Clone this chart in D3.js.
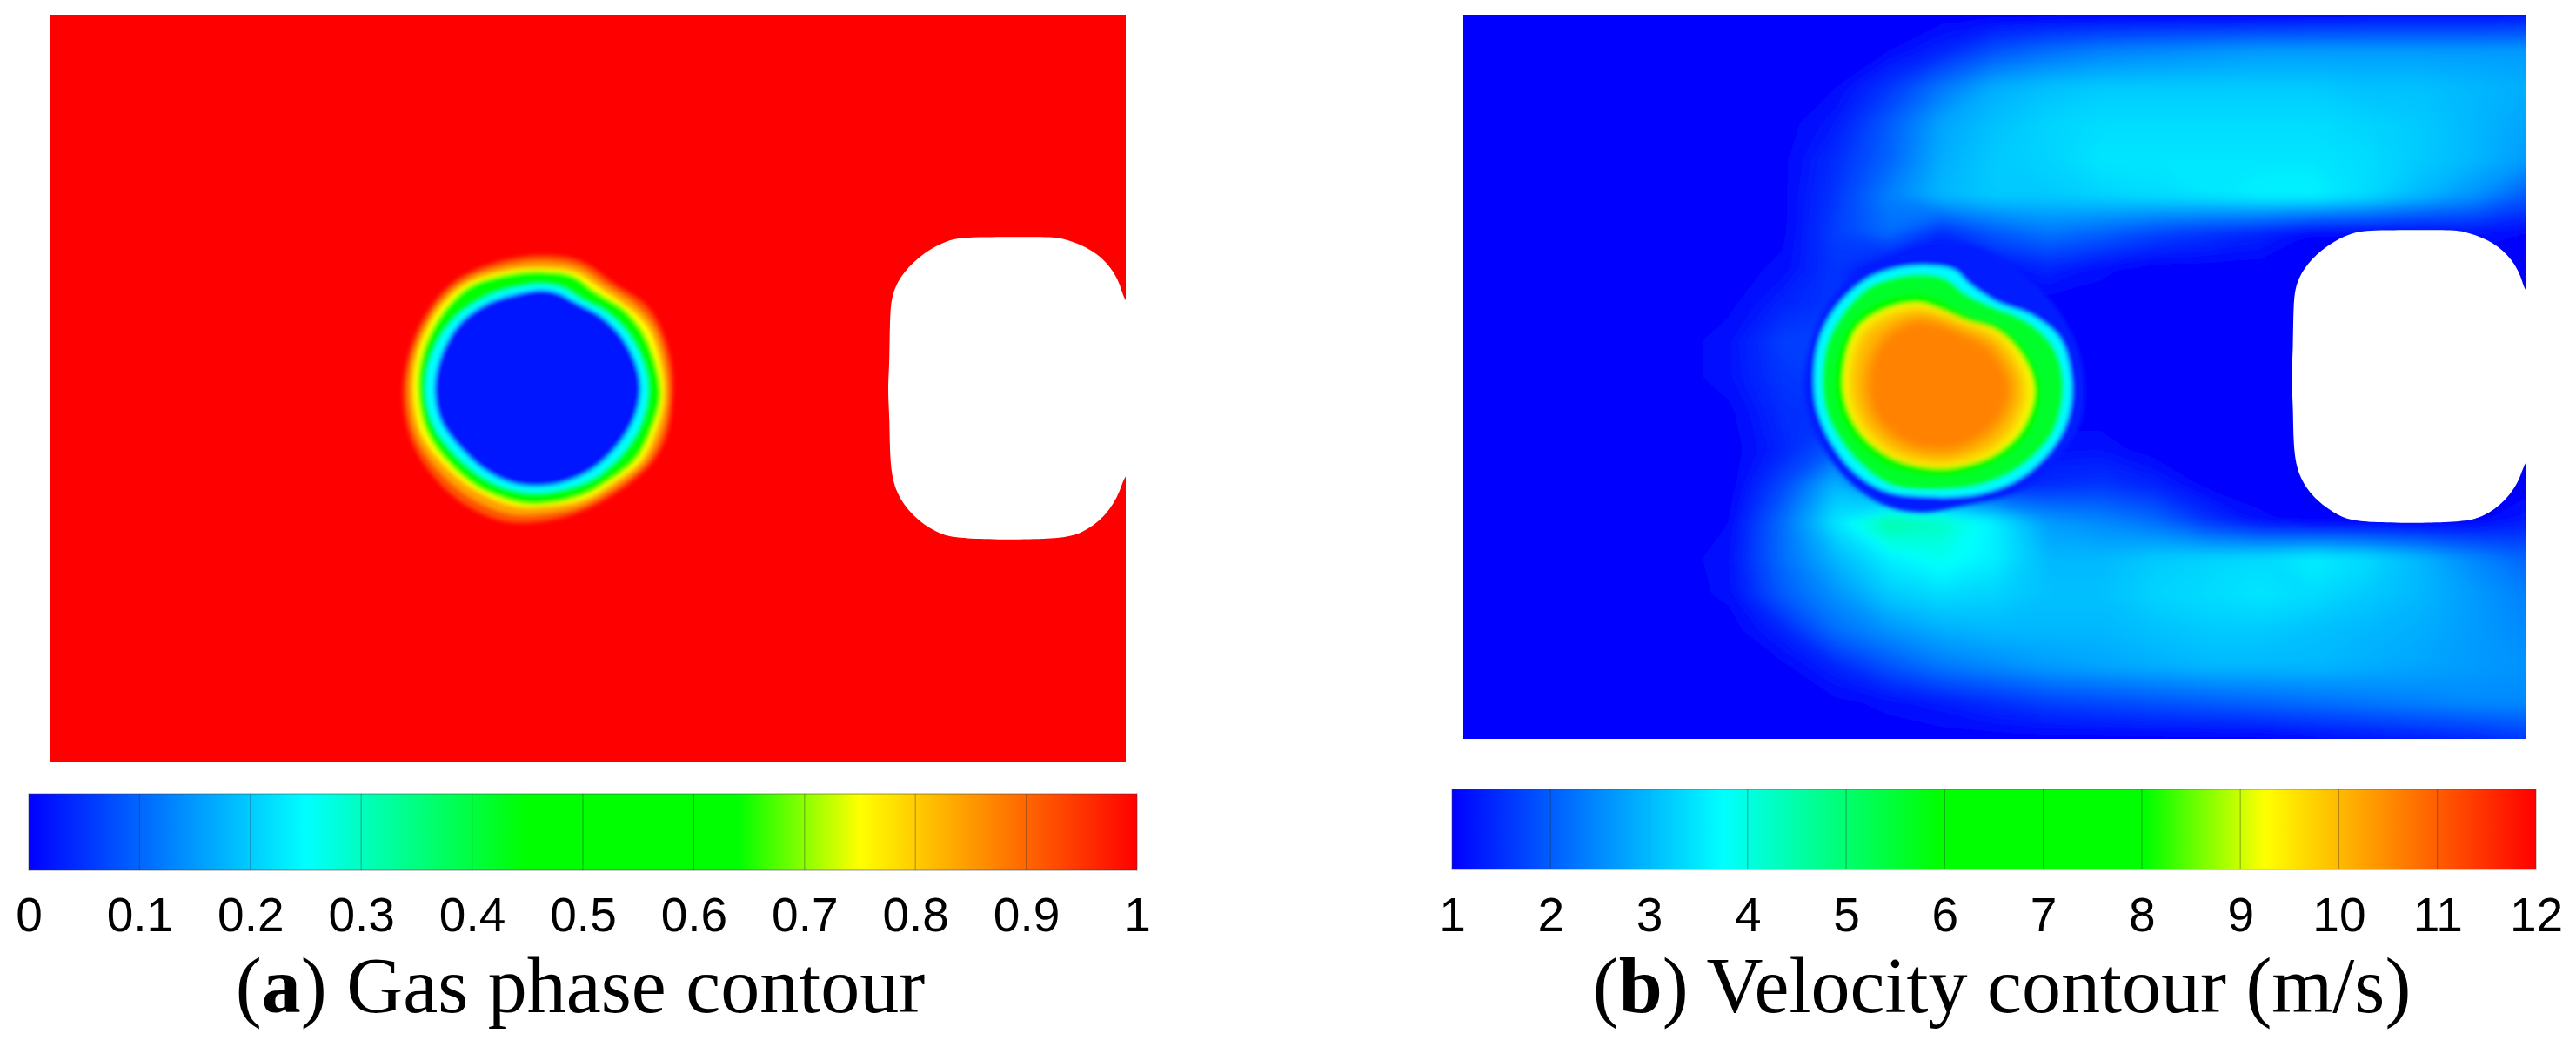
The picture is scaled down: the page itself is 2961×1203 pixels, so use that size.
<!DOCTYPE html>
<html>
<head>
<meta charset="utf-8">
<title>Gas phase and velocity contours</title>
<script src="https://cdn.jsdelivr.net/npm/d3@7"></script>
<style>
  html, body { margin: 0; background: #fff; }
  svg { display: block; }
  .tick-label text { font-family: "Liberation Sans", Arial, sans-serif; font-size: 55px; fill: #000; }
  .caption { font-family: "Liberation Serif", "Times New Roman", serif; font-size: 90px; fill: #000; text-anchor: middle; }
</style>
</head>
<body>
<svg id="chart" width="2961" height="1203" viewBox="0 0 2961 1203"></svg>
<script>
// colour map shared by both contours, t is the fraction of the colour bar
const colorStops = [0, 0.25, 0.45, 0.64, 0.75, 1];
const colorValues = ["#0000ff", "#00ffff", "#00ff00", "#00ff00", "#ffff00", "#ff0000"];

const gasTicks = [0, 0.1, 0.2, 0.3, 0.4, 0.5, 0.6, 0.7, 0.8, 0.9, 1];
const velocityTicks = [1, 2, 3, 4, 5, 6, 7, 8, 9, 10, 11, 12];

// white obstacle outline in domain units (x 0-150, y 0-100), runs past the right edge to close
const obstacleOutline = [
  [150, 39.9], [149.4, 36], [147.4, 33], [144.6, 31], [141, 29.8], [138.8, 29.7], [128.3, 29.7],
  [125.4, 30], [121.8, 31.8], [119, 34.4], [117.6, 36.8], [117.1, 39.5], [117.1, 46.1], [116.8, 50.2],
  [117.1, 53.9], [117.1, 60.1], [117.9, 64], [120.4, 67.2], [123.6, 69.3], [126.6, 70.2], [140.9, 70.2],
  [144, 69.3], [147, 67.3], [149.4, 63.8], [150, 60.1], [158, 60], [158, 40],
];

// gas fraction isolines of the bubble, digitised in image units
const gasLevels = [0.92, 0.84, 0.75, 0.64, 0.45, 0.25, 0.02];
const gasOutlines = [
  [[350,70],[430,90],[500,170],[560,240],[590,320],[612,450],[612,600],[600,700],[570,790],[500,890],[420,960],[340,990],[270,985],[190,920],[130,820],[90,700],[75,550],[85,420],[115,290],[170,170],[250,100]],
  [[352,92],[425,110],[485,178],[542,245],[578,320],[601,445],[605,580],[590,690],[560,785],[495,875],[430,935],[355,962],[285,960],[205,900],[140,800],[100,690],[85,545],[95,410],[130,275],[185,170],[265,112]],
  [[355,115],[420,130],[470,185],[525,250],[565,320],[590,440],[597,560],[580,680],[550,780],[490,860],[440,910],[370,935],[300,935],[220,880],[150,780],[110,680],[95,540],[105,400],[145,260],[200,170],[280,125]],
  [[355,125],[415,140],[460,195],[520,260],[555,335],[580,440],[590,560],[570,680],[540,775],[480,855],[430,900],[370,925],[310,925],[225,870],[160,775],[120,670],[105,530],[115,400],[155,265],[210,175],[285,135]],
  [[350,155],[395,165],[440,212],[490,258],[535,330],[565,430],[577,530],[565,640],[533,740],[472,842],[412,888],[340,908],[278,893],[222,848],[165,762],[122,650],[110,530],[122,400],[165,278],[232,200],[290,170]],
  [[350,170],[390,180],[432,222],[482,268],[525,340],[555,440],[565,530],[553,640],[520,740],[462,832],[402,873],[340,888],[283,873],[232,832],[175,748],[135,650],[120,530],[133,410],[175,293],[238,216],[295,183]],
  [[350,190],[385,200],[425,236],[470,278],[510,345],[540,440],[550,530],[537,635],[500,735],[448,815],[392,855],[340,866],[292,855],[242,815],[190,735],[150,640],[138,530],[150,420],[188,305],[248,232],[300,204]],
];

// velocity isolines of the bubble, digitised in image units
const velocityLevels = [1.3, 3.7, 5.6, 8, 9.2, 10, 10.6];
const velocityOutlines = [
  [[380,150],[450,165],[520,240],[600,390],[640,560],[640,750],[600,880],[520,1000],[420,1050],[340,1075],[270,1050],[200,960],[140,800],[120,640],[140,450],[190,300],[290,190]],
  [[340,225],[400,240],[430,290],[480,350],[550,400],[600,480],[620,620],[615,740],[590,840],[530,950],[450,1010],[340,1020],[270,1000],[210,930],[160,800],[140,680],[145,500],[175,380],[230,280],[280,240]],
  [[340,255],[385,270],[420,320],[470,365],[535,415],[585,500],[605,620],[598,740],[575,830],[515,930],[440,985],[340,997],[280,980],[225,910],[175,790],[155,680],[160,510],[190,395],[240,300],[290,265]],
  [[335,322],[375,345],[430,400],[490,440],[535,520],[563,650],[545,790],[490,890],[410,945],[360,950],[280,920],[215,830],[180,700],[178,560],[205,430],[260,350]],
  [[335,355],[370,375],[420,415],[480,450],[525,530],[550,650],[530,780],[480,870],[410,915],[360,920],[290,890],[230,810],[198,700],[195,570],[220,440],[275,375]],
  [[335,372],[370,388],[418,422],[475,460],[513,535],[535,650],[515,775],[470,860],[405,902],[360,907],[295,880],[238,800],[210,700],[207,575],[230,455],[280,392]],
  [[340,405],[375,420],[415,450],[460,490],[490,550],[510,650],[490,755],[445,830],[400,865],[360,868],[310,845],[260,775],[238,690],[237,590],[258,490],[300,425]],
];

// background velocity (m/s) read on a grid, x every 7.5 units, y every 5 units
const velocityGrid = [
  [1,1,1,1,1,1,1,1,1,1,1,1,1,1,1,1,1.05,1.1,1.1,1.1,1.2],
  [1,1,1,1,1,1,1,1,1.1,1.4,1.9,2.2,2.4,2.5,2.6,2.7,2.7,2.7,2.7,2.7,2.7],
  [1,1,1,1,1,1,1,1.1,1.6,2.3,2.9,3.1,3.2,3.2,3.2,3.2,3.2,3.1,3.1,3,2.9],
  [1,1,1,1,1,1,1,1.3,2.0,2.8,3.1,3.3,3.4,3.4,3.4,3.4,3.4,3.3,3.2,3,2.8],
  [1,1,1,1,1,1,1.05,1.5,2.1,2.9,3.2,3.3,3.5,3.5,3.5,3.5,3.5,3.4,3.2,3,2.7],
  [1,1,1,1,1,1,1.05,1.6,2.4,3,3.2,3.2,3.3,3.4,3.5,3.65,3.65,3.4,3,2.6,2.0],
  [1,1,1,1,1,1,1.05,1.7,2.2,1.5,2.0,2.3,2.1,1.8,1.6,1.4,1.1,1.1,1.1,1.2,1.1],
  [1,1,1,1,1,1,1.15,1.6,1,1,1.2,1.4,1.15,1,1,1,1,1,1,1,1],
  [1,1,1,1,1,1.05,1.4,1.6,1,1,1,1,1,1,1,1,1,1,1,1,1],
  [1,1,1,1,1,1.2,1.7,1.7,1,1,1,1,1,1,1,1,1,1,1,1,1],
  [1,1,1,1,1,1.2,1.6,1.7,1,1,1,1,1,1,1,1,1,1,1,1,1],
  [1,1,1,1,1,1.05,1.5,1.6,1,1,1,1,1,1,1,1,1,1,1,1,1],
  [1,1,1,1,1,1,1.4,2.0,1.5,1.2,1.2,1.2,1.2,1,1,1,1,1,1,1,1],
  [1,1,1,1,1,1,1.8,3,1.6,1.3,1.3,1.5,1.6,1.4,1.05,1,1,1,1,1,1],
  [1,1,1,1,1,1.1,2.2,3.5,4.6,4.3,3.6,2.7,2.5,2.2,1.6,1.15,1,1,1,1.05,1.3],
  [1,1,1,1,1,1.2,2.2,3,3.6,3.9,3.6,3.0,3.0,3.2,3.3,3.4,3.6,3.4,3.0,2.5,2.1],
  [1,1,1,1,1,1.15,2,2.6,3.2,3.4,3.3,3.1,3.1,3.3,3.4,3.5,3.4,3.2,3,2.7,2.4],
  [1,1,1,1,1,1,1.4,2.2,2.6,2.9,3.0,3,3.0,3.1,3.2,3.2,3.1,3,2.9,2.7,2.5],
  [1,1,1,1,1,1,1.05,1.4,1.9,2.3,2.5,2.7,2.8,2.9,3.0,3.0,3.0,2.9,2.8,2.7,2.6],
  [1,1,1,1,1,1,1,1.05,1.15,1.3,1.5,1.7,1.8,1.9,2.0,2.1,2.2,2.3,2.4,2.5,2.5],
  [1,1,1,1,1,1,1,1,1,1,1,1,1,1,1,1,1.1,1.2,1.3,1.4,1.6],
];

const PANEL_A = { left: 57, right: 1294, top: 17, bottom: 876 };
const PANEL_B = { left: 1682, right: 2904, top: 17, bottom: 849 };
const BAR_A = { left: 33, right: 1307, top: 912, bottom: 1000 };
const BAR_B = { left: 1669, right: 2915, top: 907, bottom: 999 };
const LABEL_BASELINE = 1070;
const CAPTION_BASELINE = 1163;

const fractionColor = d3.scaleLinear().domain(colorStops).range(colorValues);
const velocityColor = (v) => fractionColor((v - 1) / 11);

const svg = d3.select("#chart");
const defs = svg.append("defs");

function addBlur(id, deviation) {
  defs.append("filter")
    .attr("id", id)
    .attr("filterUnits", "userSpaceOnUse")
    .attr("x", 0).attr("y", 0).attr("width", 2961).attr("height", 1203)
    .append("feGaussianBlur")
    .attr("stdDeviation", deviation);
}
addBlur("soft-a", 2.5);
addBlur("soft-b", 2.5);
addBlur("soft-core", 7);
addBlur("soft-bg", 6);

function panelScales(panel) {
  return {
    x: d3.scaleLinear().domain([0, 150]).range([panel.left, panel.right]),
    y: d3.scaleLinear().domain([0, 100]).range([panel.top, panel.bottom]),
  };
}

function clippedPanel(id, panel) {
  defs.append("clipPath").attr("id", id)
    .append("rect")
    .attr("x", panel.left).attr("y", panel.top)
    .attr("width", panel.right - panel.left).attr("height", panel.bottom - panel.top);
  return svg.append("g").attr("clip-path", `url(#${id})`);
}

// nested isolines of the bubble, blur makes the bands run into each other
function drawIsolines(g, outlines, levels, color, sx, sy, filterId) {
  const line = d3.line()
    .x((d) => sx(d[0]))
    .y((d) => sy(d[1]))
    .curve(d3.curveCatmullRomClosed);

  g.append("g")
    .attr("filter", `url(#${filterId})`)
    .selectAll("path")
    .data(outlines)
    .join("path")
    .attr("d", line)
    .attr("fill", (_, i) => color(levels[i]));
}

// basis curve here, catmull-rom wobbles along the straight sides
function drawObstacle(g, scales) {
  const line = d3.line()
    .x((d) => scales.x(d[0]))
    .y((d) => scales.y(d[1]))
    .curve(d3.curveBasisClosed);

  g.append("path")
    .attr("d", line(obstacleOutline))
    .attr("fill", "#fff");
}

function drawColorBar(id, bar, ticks) {
  const grad = defs.append("linearGradient").attr("id", id);
  grad.selectAll("stop")
    .data(colorStops)
    .join("stop")
    .attr("offset", (d) => d)
    .attr("stop-color", (_, i) => colorValues[i]);

  const x = d3.scaleLinear().domain(d3.extent(ticks)).range([bar.left, bar.right]);

  svg.append("rect")
    .attr("x", bar.left).attr("y", bar.top)
    .attr("width", bar.right - bar.left).attr("height", bar.bottom - bar.top)
    .attr("fill", `url(#${id})`)
    .attr("stroke", "rgba(60,60,60,0.35)")
    .attr("stroke-width", 1.5);

  svg.append("g")
    .selectAll("line")
    .data(ticks.slice(1, -1))
    .join("line")
    .attr("x1", x).attr("x2", x)
    .attr("y1", bar.top).attr("y2", bar.bottom)
    .attr("stroke", "rgba(40,40,40,0.35)")
    .attr("stroke-width", 1.2);

  const axis = svg.append("g")
    .attr("class", "tick-label")
    .attr("transform", `translate(0,${LABEL_BASELINE})`)
    .call(d3.axisBottom(x).tickValues(ticks).tickFormat(d3.format("")).tickSize(0));
  axis.select(".domain").remove();
  axis.selectAll("text").attr("y", 0).attr("dy", 0);
}

function drawCaption(cx, tag, rest) {
  const t = svg.append("text").attr("class", "caption").attr("x", cx).attr("y", CAPTION_BASELINE);
  t.append("tspan").text("(");
  t.append("tspan").attr("font-weight", "bold").text(tag);
  t.append("tspan").text(") " + rest);
}

// panel (a): gas phase
const scalesA = panelScales(PANEL_A);
const panelA = clippedPanel("clip-a", PANEL_A);
panelA.append("rect")
  .attr("x", PANEL_A.left).attr("y", PANEL_A.top)
  .attr("width", PANEL_A.right - PANEL_A.left).attr("height", PANEL_A.bottom - PANEL_A.top)
  .attr("fill", fractionColor(1));
drawIsolines(
  panelA, gasOutlines, gasLevels, fractionColor,
  d3.scaleLinear().domain([0, 1000]).range([scalesA.x(44.05), scalesA.x(113.72)]),
  d3.scaleLinear().domain([0, 1000]).range([scalesA.y(29.45), scalesA.y(68.25)]),
  "soft-a"
);
drawObstacle(panelA, scalesA);

// panel (b): velocity, background bands come from d3.contours on the read grid
const scalesB = panelScales(PANEL_B);
const panelB = clippedPanel("clip-b", PANEL_B);
panelB.append("rect")
  .attr("x", PANEL_B.left).attr("y", PANEL_B.top)
  .attr("width", PANEL_B.right - PANEL_B.left).attr("height", PANEL_B.bottom - PANEL_B.top)
  .attr("fill", velocityColor(1));

const gridCols = velocityGrid[0].length;
const gridRows = velocityGrid.length;
const gridX = d3.scaleLinear().domain([0.5, gridCols - 0.5]).range([scalesB.x(0), scalesB.x(150)]);
const gridY = d3.scaleLinear().domain([0.5, gridRows - 0.5]).range([scalesB.y(0), scalesB.y(100)]);
const gridPath = d3.geoPath(d3.geoTransform({
  point(px, py) { this.stream.point(gridX(px), gridY(py)); },
}));
const bands = d3.contours()
  .size([gridCols, gridRows])
  .thresholds(d3.range(1.02, 5, 0.04))(velocityGrid.flat());

panelB.append("g")
  .attr("filter", "url(#soft-bg)")
  .selectAll("path")
  .data(bands)
  .join("path")
  .attr("d", gridPath)
  .attr("fill", (d) => velocityColor(d.value));

const bubbleX = d3.scaleLinear().domain([0, 1000]).range([scalesB.x(39.1), scalesB.x(114.4)]);
const bubbleY = d3.scaleLinear().domain([0, 1000]).range([scalesB.y(25.6), scalesB.y(65.7)]);
drawIsolines(panelB, velocityOutlines.slice(0, 5), velocityLevels.slice(0, 5), velocityColor, bubbleX, bubbleY, "soft-b");
// the yellow to orange core is a long soft ramp in the reference
drawIsolines(panelB, velocityOutlines.slice(5), velocityLevels.slice(5), velocityColor, bubbleX, bubbleY, "soft-core");
drawObstacle(panelB, scalesB);

drawColorBar("bar-a", BAR_A, gasTicks);
drawColorBar("bar-b", BAR_B, velocityTicks);

drawCaption(667, "a", "Gas phase contour");
drawCaption(2301, "b", "Velocity contour (m/s)");
</script>
</body>
</html>
